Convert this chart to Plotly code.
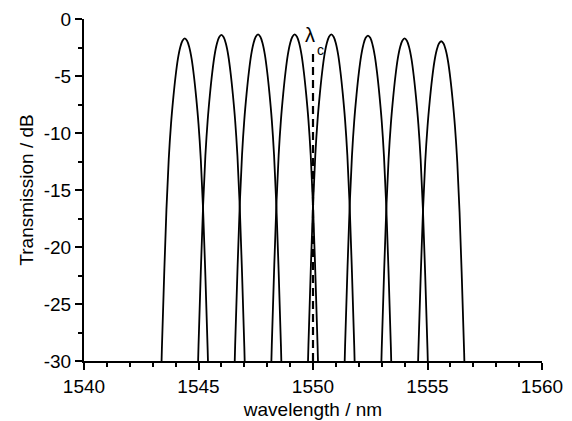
import plotly.graph_objects as go

# Channel centre wavelengths (nm) and peak transmission (dB)
centers = [1544.4, 1546.0, 1547.6, 1549.2, 1550.8, 1552.4, 1554.0, 1555.6]
peaks = [-1.7, -1.4, -1.35, -1.35, -1.35, -1.45, -1.7, -1.95]

# Filter profile: offset from centre (nm) vs. level relative to peak (dB)
profile_offset = [0.0, 0.1, 0.2, 0.3, 0.4, 0.5, 0.6, 0.7, 0.8, 0.9, 1.0, 1.1]
profile_rel = [0.0, -0.2, -0.8, -1.8, -3.3, -5.2, -7.5, -10.6, -15.0, -20.8, -27.3, -35.0]

# Centre-wavelength marker
lambda_c = 1550.0
marker_top = -2.7
marker_bottom = -30.0

x_ticks = [1540, 1545, 1550, 1555, 1560]
y_ticks = [-30, -25, -20, -15, -10, -5, 0]
y_ticktext = ["-30", "-25", "-20", "-15", "-10", "-5", "0"]

FONT = "Arial, 'Liberation Sans', sans-serif"

fig = go.Figure()
for c, p in zip(centers, peaks):
    xs = [c - o for o in reversed(profile_offset)] + [c + o for o in profile_offset[1:]]
    ys = [p + r for r in reversed(profile_rel)] + [p + r for r in profile_rel[1:]]
    fig.add_trace(go.Scatter(x=xs, y=ys, mode="lines",
                             line=dict(color="black", width=1.8, shape="spline", smoothing=1.0),
                             showlegend=False, hoverinfo="skip"))

fig.add_trace(go.Scatter(x=[lambda_c, lambda_c], y=[marker_bottom, marker_top], mode="lines",
                         line=dict(color="black", width=2.2, dash="8px,5px"),
                         showlegend=False, hoverinfo="skip"))

# λ with its subscript c (placed low, as in the original figure)
fig.add_annotation(x=1549.88, y=-1.42, xref="x", yref="y", text="λ",
                   showarrow=False, xanchor="center", yanchor="middle",
                   font=dict(family=FONT, size=20, color="black"))
fig.add_annotation(x=1550.33, y=-2.75, xref="x", yref="y", text="c",
                   showarrow=False, xanchor="center", yanchor="middle",
                   font=dict(family=FONT, size=14, color="black"))

fig.update_layout(
    width=572, height=421,
    margin=dict(l=84, r=30, t=19, b=60, autoexpand=False),
    paper_bgcolor="white", plot_bgcolor="white",
    font=dict(family=FONT, size=19, color="black"),
    showlegend=False,
)
fig.update_xaxes(
    range=[1540, 1560], tickmode="array", tickvals=x_ticks, automargin=False,
    ticks="outside", ticklen=7, tickwidth=2, tickcolor="black",
    showline=True, linewidth=2, linecolor="black", showgrid=False, zeroline=False,
    minor=dict(tickmode="linear", tick0=1540, dtick=1, ticks="outside", ticklen=4,
               tickwidth=2, tickcolor="black", showgrid=False),
    title=dict(text="wavelength / nm", font=dict(size=19), standoff=7),
    tickfont=dict(size=19),
)
fig.update_yaxes(
    range=[-30, 0], tickmode="array", tickvals=y_ticks, ticktext=y_ticktext, automargin=False,
    ticks="outside", ticklen=7, tickwidth=2, tickcolor="black",
    showline=True, linewidth=2, linecolor="black", showgrid=False, zeroline=False,
    minor=dict(tickmode="linear", tick0=0, dtick=2.5, ticks="outside", ticklen=4,
               tickwidth=2, tickcolor="black", showgrid=False),
    title=dict(text="Transmission / dB", font=dict(size=19), standoff=5),
    tickfont=dict(size=19),
)

fig.write_html("out.html", config={"displayModeBar": False},
               post_script="document.body.style.margin='0';")
